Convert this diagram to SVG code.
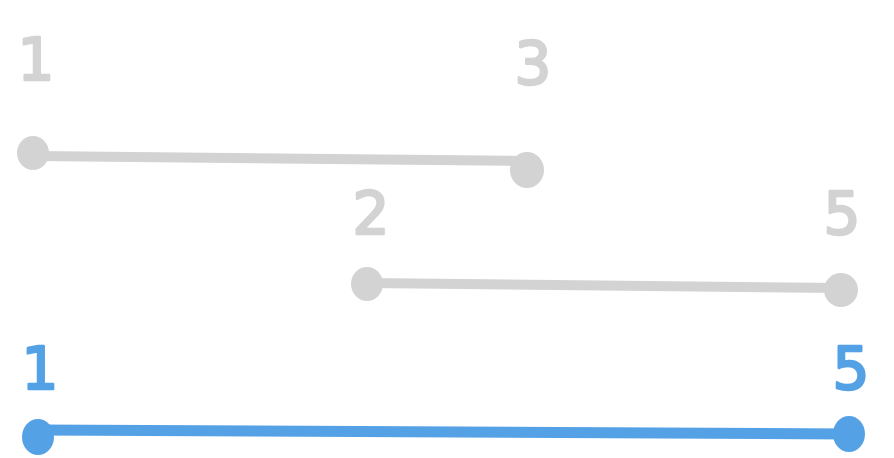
<svg xmlns="http://www.w3.org/2000/svg" width="894" height="458" viewBox="0 0 894 458">
<style>
.g{fill:#d3d3d3}
.b{fill:#54a1e5}
.lg{stroke:#d3d3d3;stroke-width:10;stroke-linecap:round;fill:none}
.lb{stroke:#54a1e5;stroke-width:11;stroke-linecap:round;fill:none}
.t{font-family:"DejaVu Sans",sans-serif;font-size:58px;text-anchor:middle;stroke-width:2.5;stroke-linejoin:round}
.tg{fill:#d3d3d3;stroke:#d3d3d3}
.tb{fill:#54a1e5;stroke:#54a1e5}
</style>
<rect width="894" height="458" fill="#ffffff"/>
<g id="connectors">
<path class="lg" d="M34 156 L527 161"/>
<path class="lg" d="M368 283 L841 288"/>
<path class="lb" d="M38 430 L849 434"/>
</g>
<g id="seg1">
<ellipse class="g" cx="33" cy="153" rx="16" ry="17"/>
<ellipse class="g" cx="527" cy="170" rx="17" ry="18"/>
<text class="t tg" x="36" y="80">1</text>
<text class="t tg" x="533" y="84">3</text>
</g>
<g id="seg2">
<ellipse class="g" cx="367" cy="284" rx="16" ry="17"/>
<ellipse class="g" cx="841" cy="290" rx="17" ry="17"/>
<text class="t tg" x="371" y="234">2</text>
<text class="t tg" x="842" y="234">5</text>
</g>
<g id="merged">
<ellipse class="b" cx="38" cy="437" rx="16" ry="18"/>
<ellipse class="b" cx="849" cy="434" rx="16" ry="18"/>
<text class="t tb" x="40" y="389">1</text>
<text class="t tb" x="851" y="389">5</text>
</g>
</svg>
